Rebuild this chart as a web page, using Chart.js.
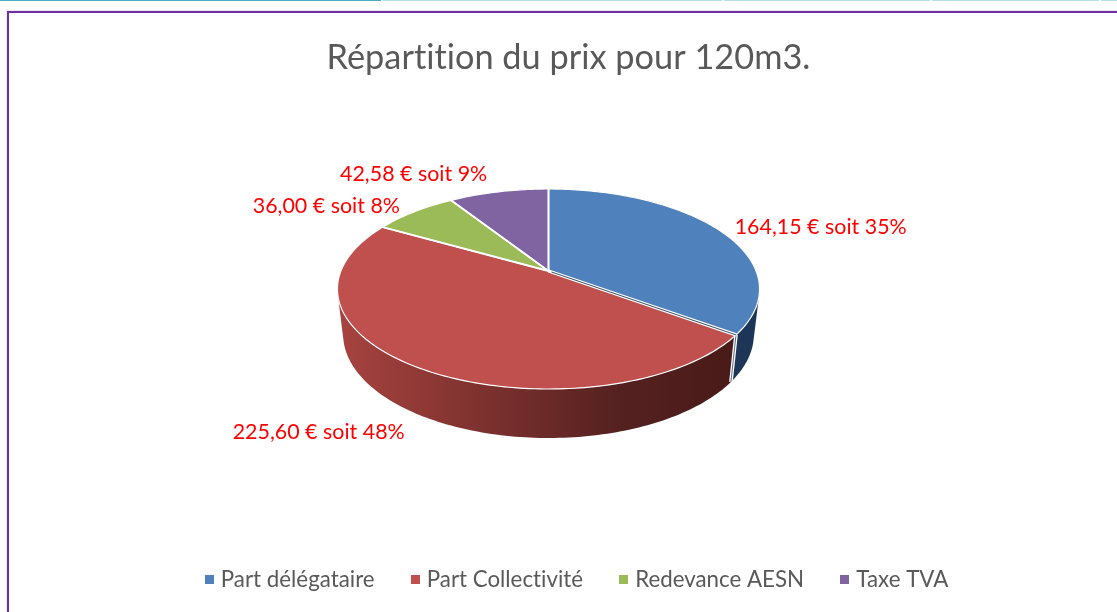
<!DOCTYPE html>
<html><head><meta charset="utf-8">
<script src="https://cdn.jsdelivr.net/npm/chart.js@4"></script>
<style>
html,body{margin:0;padding:0;background:#fff;overflow:hidden;width:1117px;height:612px}
.s{position:absolute;top:0;height:1px}
#frame{position:absolute;left:7px;top:11px;width:1200px;height:700px;border:2px solid #7030A0;box-shadow:0 0 1.5px #b9a0d0}
canvas{position:absolute;left:0;top:0}
</style></head><body>
<div class="s" style="left:0;width:381px;background:#4BACC6"></div>
<div class="s" style="left:383px;width:339px;background:#B7DEE8"></div>
<div class="s" style="left:724px;width:206px;background:#B7DEE8"></div>
<div class="s" style="left:932px;width:167px;background:#B7DEE8"></div>
<div class="s" style="left:1101px;width:16px;background:#B7DEE8"></div>
<div id="frame"></div>
<canvas id="c" width="1117" height="612"></canvas>
<script>
const categories = ["Part délégataire","Part Collectivité","Redevance AESN","Taxe TVA"];
const values = [164.15,225.60,36.00,42.58];
const colors = ["#4F81BD","#C0504D","#9BBB59","#8064A2"];
const valueLabels = ["164,15 € soit 35%","225,60 € soit 48%","36,00 € soit 8%","42,58 € soit 9%"];
const titleText = "Répartition du prix pour 120m3.";

// Perspective of the tilted disc
const P = {cx:548.5, ky:207.6, apexY:271, a:47.98, c:-0.18, depth:45.4, depthK:0.036, midY:289, shrink:0.973};
function project(theta, r){
  const u=r*Math.sin(theta), v=-r*Math.cos(theta), d=1+P.c*v;
  return {x:P.cx+P.ky*u/d, y:(P.a*v+P.apexY)/d};
}
function lower(p){
  return {x:P.cx+(p.x-P.cx)*P.shrink, y:p.y+P.depth+(p.y-P.midY)*P.depthK};
}
function arcPts(a0,a1){
  const n=Math.max(2,Math.ceil((a1-a0)/0.02)), pts=[];
  for(let i=0;i<=n;i++) pts.push(project(a0+(a1-a0)*i/n,1));
  return pts;
}
const wallStops = [
  [[0,"#10243F"],[1,"#1D3557"]],
  [[0,"#A8433F"],[0.35,"#7E322F"],[0.7,"#552120"],[1,"#481A18"]],
  [[0,"#5F7434"],[1,"#5F7434"]],
  [[0,"#4B3A61"],[1,"#4B3A61"]]
];
const labelOffsets = [[101,-3],[-97,65],[-88,-6],[-85,-18]];
function noLigatures(chart){ chart.ctx.letterSpacing="0.01px"; }

const pie3d = {
  id:"pie3d",
  beforeLayout:noLigatures,
  beforeDraw:noLigatures,
  afterLayout(chart){ chart.legend.left+=10; chart.legend.right+=10; },
  beforeDatasetsDraw(chart){
    const ctx=chart.ctx, arcs=chart.getDatasetMeta(0).data;
    const slices=arcs.map((el,i)=>{
      const a0=el.startAngle+Math.PI/2, a1=el.endAngle+Math.PI/2;
      return {a0,a1,color:el.options.backgroundColor,i,pts:arcPts(a0,a1)};
    });
    ctx.save();
    ctx.lineJoin="round";
    // walls: one path of small quads, all wound the same way
    [3,2,0,1].forEach(k=>{
      const s=slices[k];
      const g=ctx.createLinearGradient(P.cx-211,0,P.cx+190,0);
      wallStops[k].forEach(t=>g.addColorStop(t[0],t[1]));
      ctx.fillStyle=g;
      ctx.beginPath();
      for(let j=0;j<s.pts.length-1;j++){
        const a=s.pts[j],b=s.pts[j+1];
        let q=[a,b,lower(b),lower(a)];
        let area=0;
        q.forEach((p,m)=>{const n=q[(m+1)%4];area+=p.x*n.y-n.x*p.y;});
        if(area<0) q=q.reverse();
        q.forEach((p,m)=>m?ctx.lineTo(p.x,p.y):ctx.moveTo(p.x,p.y));
        ctx.closePath();
      }
      ctx.fill("nonzero");
    });
    // seam between the two front walls
    const seam=project(slices[1].a0,1), seamLow=lower(seam);
    ctx.strokeStyle="#ffffff"; ctx.lineWidth=3.6;
    ctx.beginPath();ctx.moveTo(seam.x,seam.y);ctx.lineTo(seamLow.x,seamLow.y);ctx.stroke();
    ctx.strokeStyle="#5A6F88"; ctx.lineWidth=1;
    ctx.beginPath();ctx.moveTo(seam.x,seam.y);ctx.lineTo(seamLow.x,seamLow.y);ctx.stroke();
    // top faces
    const apex=project(0,0);
    slices.forEach(s=>{
      ctx.beginPath();ctx.moveTo(apex.x,apex.y);
      s.pts.forEach(p=>ctx.lineTo(p.x,p.y));
      ctx.closePath();
      ctx.fillStyle=s.color;ctx.fill();
      ctx.strokeStyle="#ffffff";ctx.lineWidth=1.2;ctx.stroke();
    });
    // radial separators
    ctx.strokeStyle="#ffffff";ctx.lineWidth=2;
    slices.forEach(s=>{
      const e=project(s.a0,1);
      ctx.beginPath();ctx.moveTo(apex.x,apex.y);ctx.lineTo(e.x,e.y);ctx.stroke();
    });
    // sliver between blue and red faces
    const e=project(slices[1].a0,1);
    ctx.strokeStyle="#ffffff";ctx.lineWidth=3.4;
    ctx.beginPath();ctx.moveTo(apex.x,apex.y);ctx.lineTo(e.x,e.y);ctx.stroke();
    ctx.strokeStyle="#3A4F6A";ctx.lineWidth=1;
    ctx.beginPath();ctx.moveTo(apex.x+3,apex.y+1);ctx.lineTo(e.x,e.y);ctx.stroke();
    // value labels
    ctx.fillStyle="#FF0000";ctx.font="21.4px Lato";ctx.textAlign="center";ctx.textBaseline="middle";
    slices.forEach((s,i)=>{
      const p=project((s.a0+s.a1)/2,1);
      ctx.fillText(valueLabels[i],p.x+labelOffsets[i][0],p.y+labelOffsets[i][1]);
    });
    ctx.restore();
    return false;
  }
};

function marker(color){
  const m=document.createElement("canvas");m.width=9;m.height=9;
  const c=m.getContext("2d");c.fillStyle=color;c.fillRect(0,0,9,9);return m;
}
new Chart(document.getElementById("c"),{
  type:"pie",
  data:{labels:categories,datasets:[{data:values,backgroundColor:colors,borderColor:"#fff",borderWidth:1.5}]},
  plugins:[pie3d],
  options:{
    responsive:false,animation:false,events:[],
    layout:{padding:{top:20,bottom:11,left:20}},
    plugins:{
      tooltip:{enabled:false},
      title:{display:true,text:titleText,color:"#595959",font:{family:"Lato",size:34.3,weight:"normal"},padding:{top:17,bottom:10}},
      legend:{position:"bottom",labels:{
        usePointStyle:true,pointStyleWidth:1,color:"#595959",padding:40,font:{family:"Lato",size:22.3},
        generateLabels(chart){
          return Chart.overrides.pie.plugins.legend.labels.generateLabels(chart).map((l,i)=>Object.assign(l,{pointStyle:marker(colors[i])}));
        }
      }}
    }
  }
});
</script></body></html>
